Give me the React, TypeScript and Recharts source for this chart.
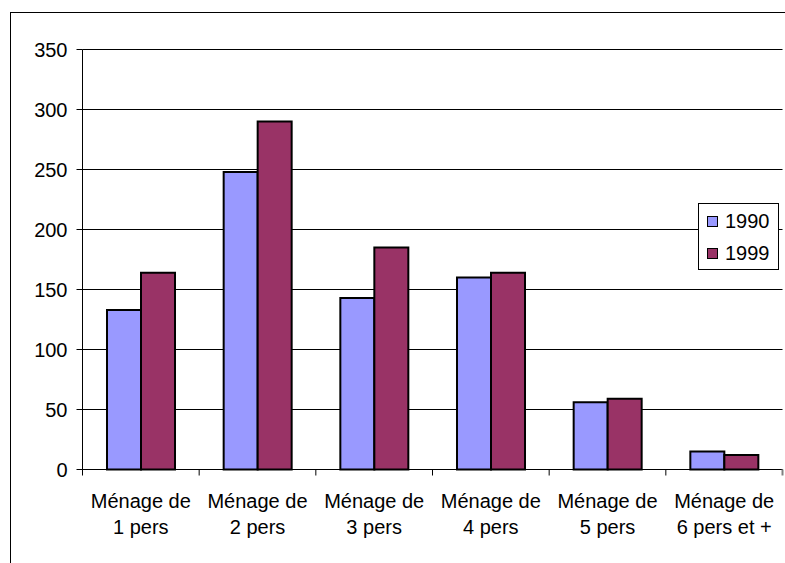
import React from 'react';
import { BarChart, Bar, XAxis, YAxis, CartesianGrid, Legend } from 'recharts';

const CATEGORIES = [
  'Ménage de 1 pers',
  'Ménage de 2 pers',
  'Ménage de 3 pers',
  'Ménage de 4 pers',
  'Ménage de 5 pers',
  'Ménage de 6 pers et +',
];
const VALUES_1990 = [133, 248, 143, 160, 56, 15];
const VALUES_1999 = [164, 290, 185, 164, 59, 12];
const Y_TICKS = [0, 50, 100, 150, 200, 250, 300, 350];

const FONT = '"Liberation Sans", Arial, sans-serif';
const WIDTH = 785;
const HEIGHT = 563;
const PLOT_LEFT = 82.5;
const PLOT_RIGHT = 782.5;
const BAND = (PLOT_RIGHT - PLOT_LEFT) / CATEGORIES.length;

const data = CATEGORIES.map((label, i) => ({
  label,
  y1990: VALUES_1990[i],
  y1999: VALUES_1999[i],
}));

// Excel style: two line label, tick marks between categories
function CategoryTick(props: any) {
  const { x, y, payload, index } = props;
  const words = String(payload.value).split(' ');
  const first = words.slice(0, 2).join(' ');
  const second = words.slice(2).join(' ');
  const half = (payload.offset as number) || BAND / 2;
  return (
    <g>
      <line x1={x - half} y1={y} x2={x - half} y2={y + 6} stroke="#000" />
      {index === CATEGORIES.length - 1 && (
        <line x1={x + half} y1={y} x2={x + half} y2={y + 6} stroke="#808080" strokeWidth={2} />
      )}
      <text x={x} y={y + 38} textAnchor="middle" fontSize={20} fontFamily={FONT} fill="#000">
        {first}
      </text>
      <text x={x} y={y + 64} textAnchor="middle" fontSize={20} fontFamily={FONT} fill="#000">
        {second}
      </text>
    </g>
  );
}

function LegendBox(props: any) {
  const { payload } = props;
  return (
    <div
      style={{
        width: 79,
        height: 65,
        border: '1px solid #000',
        background: '#fff',
        fontFamily: FONT,
        fontSize: 20,
        boxSizing: 'content-box',
      }}
    >
      {(payload || []).map((entry: any, i: number) => (
        <div
          key={entry.value}
          style={{
            position: 'absolute',
            left: 9,
            top: 8 + i * 32,
            display: 'flex',
            alignItems: 'center',
            height: 20,
            lineHeight: '20px',
          }}
        >
          <span
            style={{
              display: 'inline-block',
              width: 9,
              height: 9,
              background: entry.color,
              border: '1.5px solid #000',
              marginRight: 7,
            }}
          />
          <span>{entry.value}</span>
        </div>
      ))}
    </div>
  );
}

export default function App() {
  return (
    <div
      style={{
        position: 'absolute',
        left: 0,
        top: 0,
        width: WIDTH,
        height: HEIGHT,
        overflow: 'hidden',
        background: '#fff',
        fontFamily: FONT,
      }}
    >
      <div
        style={{
          position: 'absolute',
          left: 10,
          top: 12,
          width: 900,
          height: 700,
          border: '1px solid #000',
          boxSizing: 'border-box',
        }}
      />
      <div style={{ position: 'absolute', left: 0, top: 0 }}>
        <BarChart
          width={WIDTH}
          height={HEIGHT}
          data={data}
          margin={{ top: 49.5, right: WIDTH - PLOT_RIGHT, bottom: 0, left: PLOT_LEFT - 60 }}
          barCategoryGap="21%"
          barGap={0}
        >
          <CartesianGrid vertical={false} stroke="#000" strokeWidth={1} />
          <XAxis
            dataKey="label"
            height={93.5}
            interval={0}
            tickLine={false}
            tickSize={0}
            tickMargin={0}
            axisLine={{ stroke: '#000' }}
            tick={<CategoryTick />}
          />
          <XAxis
            xAxisId="top"
            orientation="top"
            dataKey="label"
            height={0}
            tick={false}
            tickLine={false}
            axisLine={{ stroke: '#808080', strokeWidth: 2 }}
          />
          <YAxis
            width={60}
            domain={[0, 350]}
            ticks={Y_TICKS}
            interval={0}
            tickSize={6}
            tickMargin={9}
            axisLine={{ stroke: '#000' }}
            tickLine={{ stroke: '#000' }}
            tick={{ fontSize: 20, fill: '#000', fontFamily: FONT }}
          />
          <YAxis
            yAxisId="right"
            orientation="right"
            width={0}
            domain={[0, 350]}
            tick={false}
            tickLine={false}
            axisLine={{ stroke: '#808080', strokeWidth: 2 }}
          />
          <Legend
            layout="vertical"
            align="center"
            verticalAlign="middle"
            content={<LegendBox />}
            wrapperStyle={{ left: 698, top: 203, width: 81, height: 67 }}
          />
          <Bar
            dataKey="y1990"
            name="1990"
            fill="#9999FF"
            stroke="#000"
            strokeWidth={2}
            isAnimationActive={false}
          />
          <Bar
            dataKey="y1999"
            name="1999"
            fill="#993366"
            stroke="#000"
            strokeWidth={2}
            isAnimationActive={false}
          />
        </BarChart>
      </div>
    </div>
  );
}
